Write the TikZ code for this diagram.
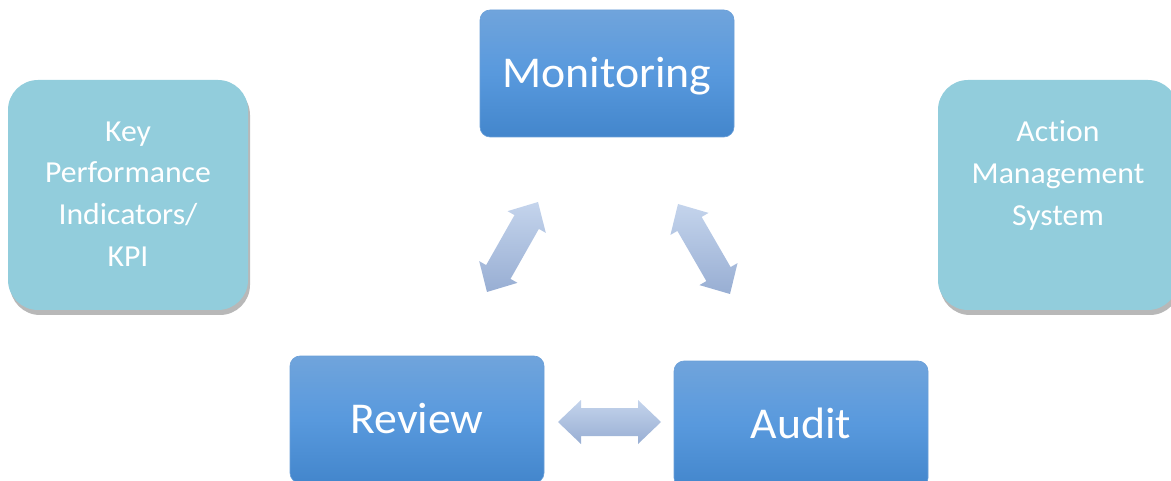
\documentclass[tikz,border=0pt]{standalone}
\usepackage{fontspec}
\setmainfont{Carlito}[Ligatures={NoCommon}, FakeStretch=1.04]
\usetikzlibrary{calc,shadows}
\definecolor{blueTop}{HTML}{70A4DC}
\definecolor{blueMid}{HTML}{5899DD}
\definecolor{blueBot}{HTML}{4386CC}
\definecolor{blueEdge}{HTML}{6A9FD8}
\definecolor{tealFill}{HTML}{92CDDC}
\definecolor{arrTop}{HTML}{C4D4EC}
\definecolor{arrBot}{HTML}{98AED3}
\newcommand\blockarrow[2]{%
  \shade[arrowshade]
    (#1) -- ($($(#1)!23pt!(#2)$)!22pt!90:(#2)$)
    -- ($($(#1)!23pt!(#2)$)!14pt!90:(#2)$)
    -- ($($(#2)!23pt!(#1)$)!14pt!-90:(#1)$)
    -- ($($(#2)!23pt!(#1)$)!22pt!-90:(#1)$)
    -- (#2)
    -- ($($(#2)!23pt!(#1)$)!22pt!90:(#1)$)
    -- ($($(#2)!23pt!(#1)$)!14pt!90:(#1)$)
    -- ($($(#1)!23pt!(#2)$)!14pt!-90:(#2)$)
    -- ($($(#1)!23pt!(#2)$)!22pt!-90:(#2)$)
    -- cycle;}
\begin{document}
\begin{tikzpicture}[x=1pt,y=-1pt,
  bluebox/.style={rounded corners=10pt, minimum width=254pt, minimum height=127pt,
    inner sep=0pt, top color=blueTop, bottom color=blueBot, middle color=blueMid,
    draw=blueEdge, line width=0.6pt, text=white,
    font=\fontsize{44}{50}\selectfont, text height=28pt, text depth=0pt},
  tealbox/.style={rounded corners=30pt, minimum width=240pt, minimum height=230pt,
    inner sep=0pt, fill=tealFill, draw=none,
    drop shadow={shadow xshift=2pt, shadow yshift=-5pt, fill=black!28, opacity=1}},
  tealtext/.style={text=white, font=\fontsize{30.5}{41.7}\selectfont, align=center,
    anchor=north, inner sep=0pt},
  arrowshade/.style={top color=arrTop, bottom color=arrBot}]
\useasboundingbox (0,0) rectangle (1171,481);
\clip (0,0) rectangle (1171,481);
% side boxes
\node[tealbox] (kpi) at (128,195) {};
\node[tealtext] (kpiT) at (128,121.5) {Key\\Performance\\Indicators/\\KPI};
\node[tealbox] (ams) at (1058,195) {};
\node[tealtext] (amsT) at (1058,120.5) {Action\\Management\\System};
% main boxes
\node[bluebox] (mon) at (607,73.5) {Monitoring};
\node[bluebox] (rev) at (417,419.5) {Review};
\node[bluebox] (aud) at (801,424.5) {Audit};
% block arrows
\coordinate (l1) at (487,292);
\coordinate (l2) at (538,202);
\coordinate (r1) at (678,204);
\coordinate (r2) at (730,294);
\coordinate (h1) at (558,422);
\coordinate (h2) at (661,422);
\blockarrow{l1}{l2}
\blockarrow{r1}{r2}
\blockarrow{h1}{h2}
\end{tikzpicture}
\end{document}
